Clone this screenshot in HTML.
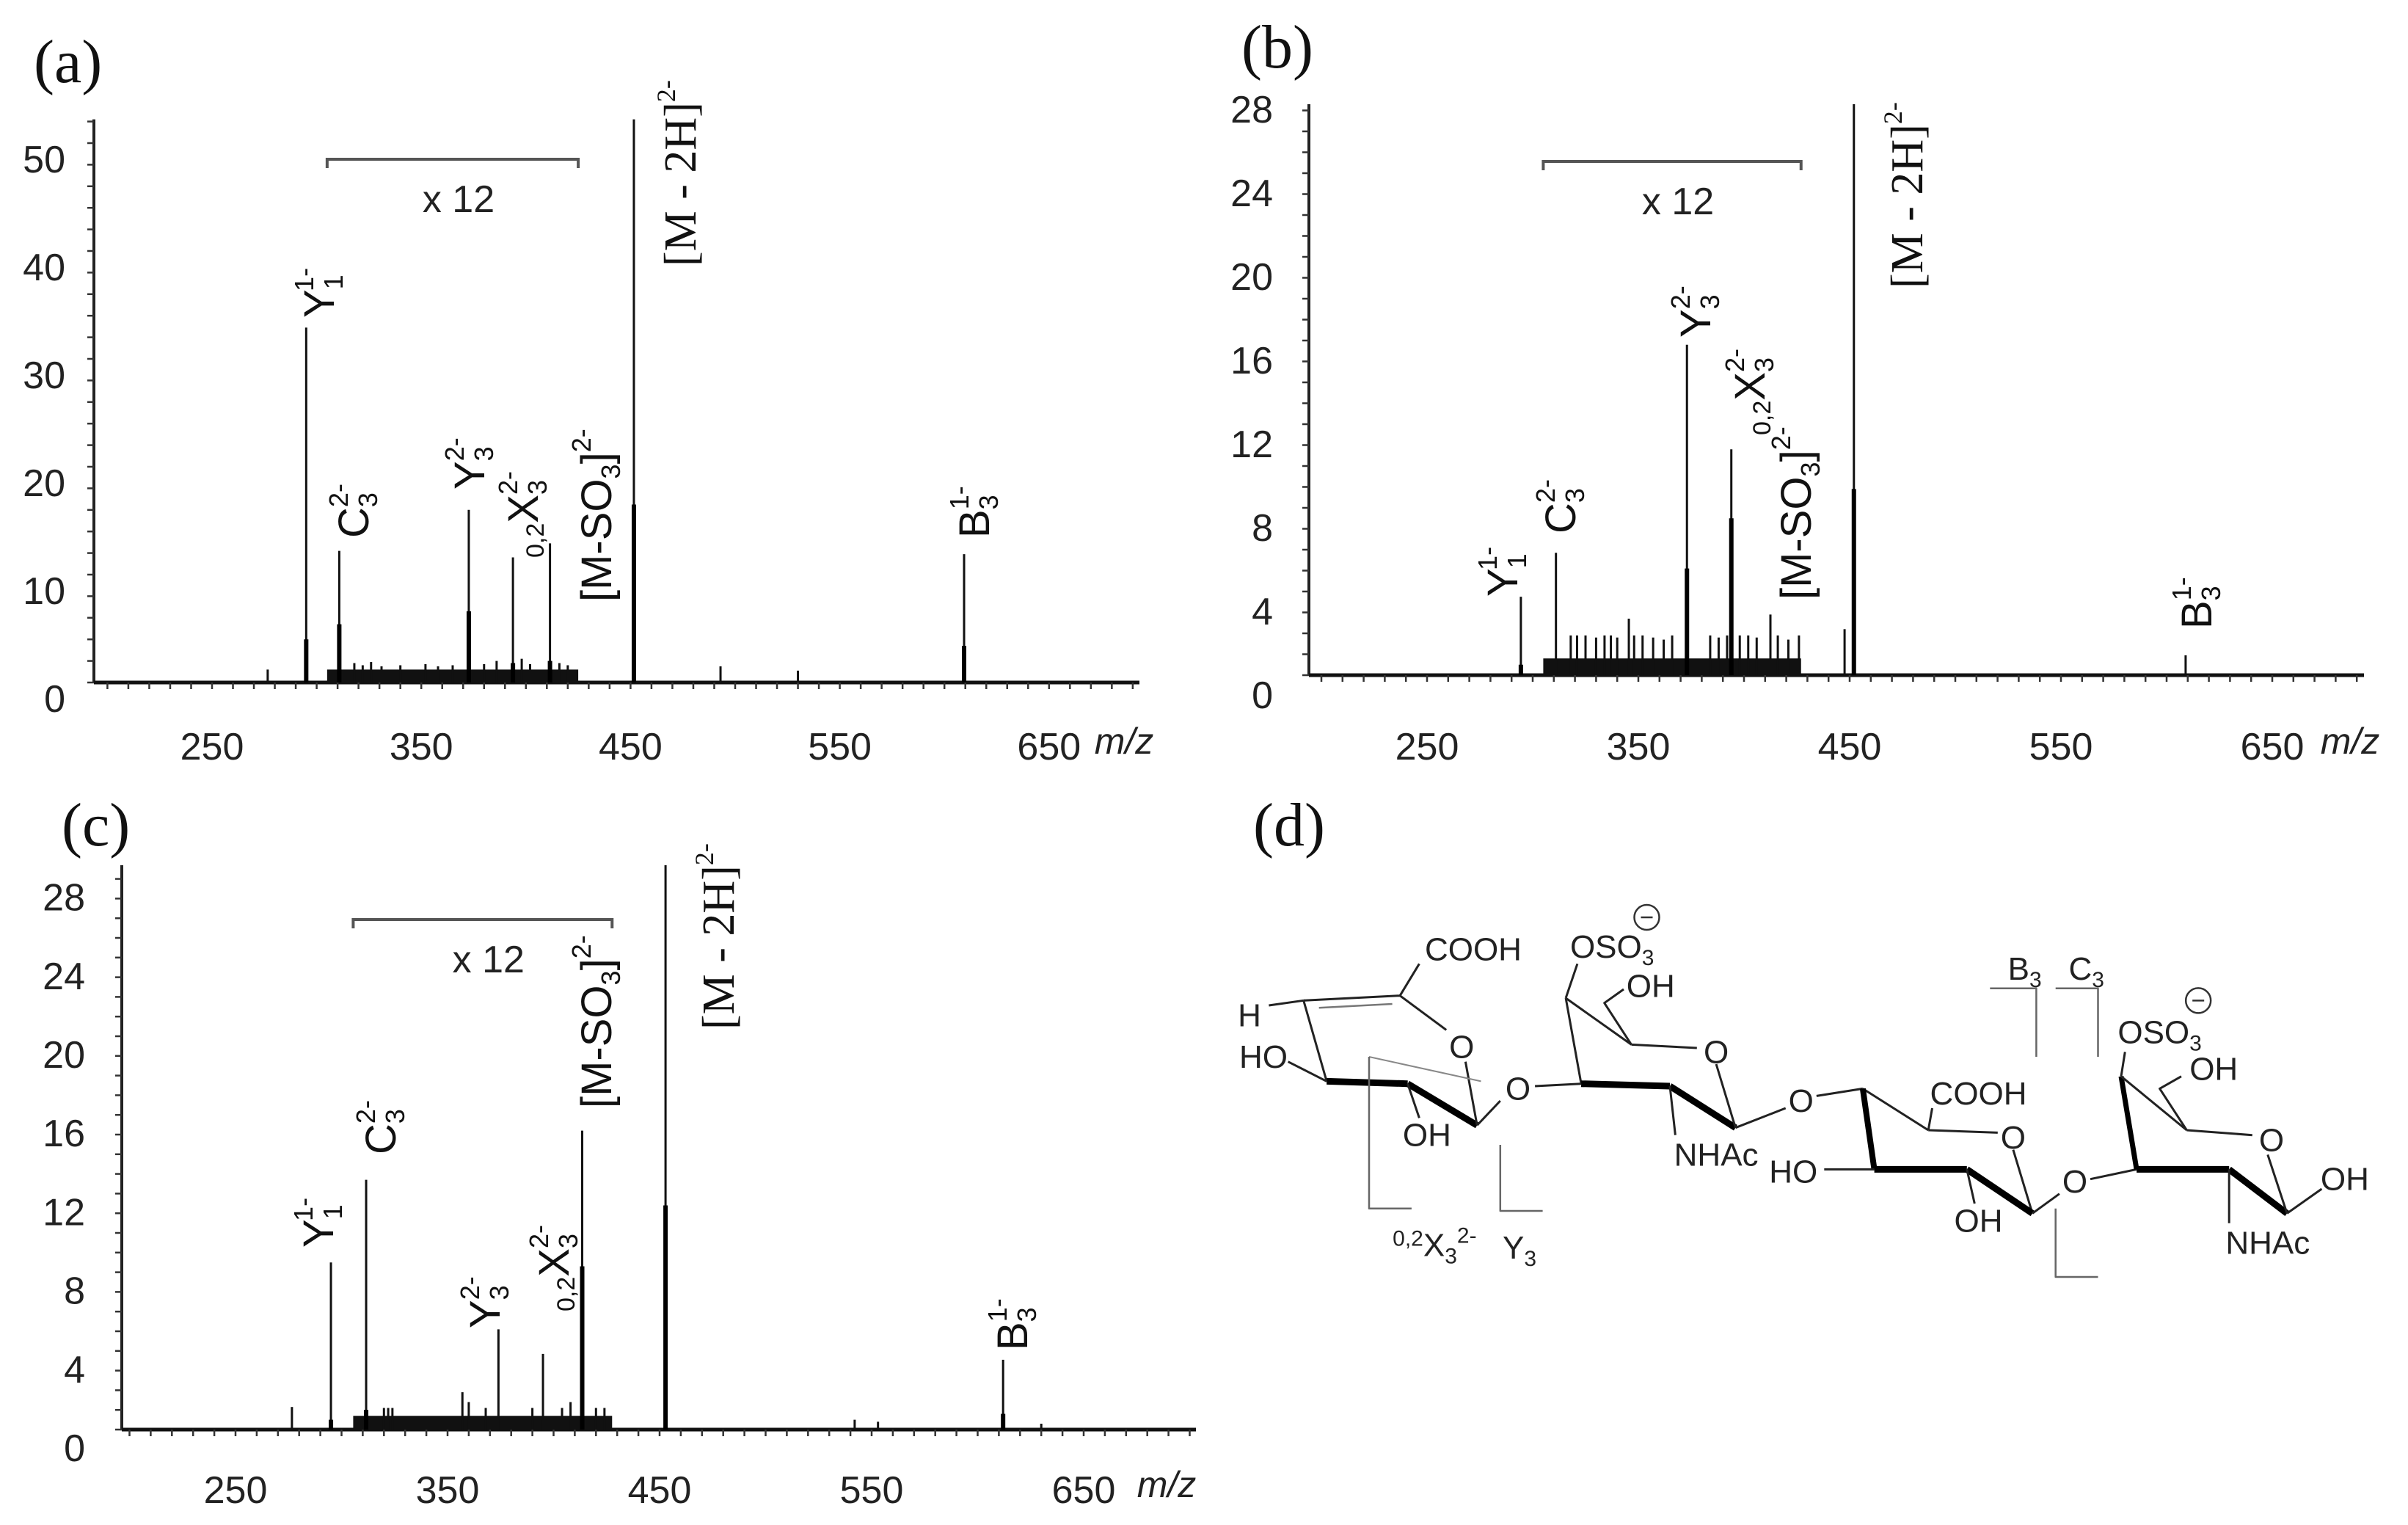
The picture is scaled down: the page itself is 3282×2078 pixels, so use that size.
<!DOCTYPE html>
<html><head><meta charset="utf-8"><style>
html,body{margin:0;padding:0;background:#fff;}
svg{display:block;}
</style></head><body>
<svg id="fig" width="3282" height="2078" viewBox="0 0 3282 2078" xmlns="http://www.w3.org/2000/svg">
<rect width="3282" height="2078" fill="#fff"/>
<g font-family="'Liberation Serif', serif" font-size="84" fill="#111">
<text x="46" y="112">(a)</text>
<text x="1692" y="92">(b)</text>
<text x="84" y="1152">(c)</text>
<text x="1708" y="1152">(d)</text>
</g>
<g id="charts"></g>
<g id="struct"></g>
</svg>
<script>
// ---- Panel (a) data ----
const aPeakMz  = [276.6, 295, 310.8, 372.7, 393.8, 411.5, 451.6, 493, 530, 609.4];
const aPeakVal = [1.2, 32.9, 12.2, 16.0, 11.6, 12.9, 52.2, 1.5, 1.1, 11.9];
const aInnerVal= [0, 4, 5.4, 6.6, 1.8, 2, 16.5, 0, 0, 3.4];
const aSpikeMz = [318, 322, 326, 331, 340, 352, 358, 365, 380, 386, 398, 402, 416, 420];
const aSpikeVal= [1.8, 1.6, 1.9, 1.5, 1.6, 1.7, 1.5, 1.6, 1.7, 2.0, 2.2, 1.7, 1.8, 1.6];
const aNoise   = [305, 425, 1.2];
const aYTicks  = [0, 10, 20, 30, 40, 50];
const aXTicks  = [250, 350, 450, 550, 650];
// ---- Panel (b) data ----
const bPeakMz  = [294.4, 311, 373, 394, 412.5, 447.6, 452, 609];
const bPeakVal = [3.75, 5.85, 15.8, 10.8, 2.9, 2.2, 27.3, 0.95];
const bInnerVal= [0.5, 0, 5.1, 7.5, 0, 0, 8.9, 0];
const bSpikeMz = [318, 321, 325, 330, 334, 337, 340, 345.5, 348, 352, 357, 362, 366, 384, 388, 392, 398, 402, 406, 416, 421, 426];
const bSpikeVal= [1.9, 1.9, 1.9, 1.8, 1.9, 1.9, 1.8, 2.7, 1.9, 1.9, 1.8, 1.7, 1.9, 1.9, 1.8, 1.9, 1.9, 1.9, 1.8, 1.9, 1.7, 1.9];
const bNoise   = [305, 427, 0.8];
const bYTicks  = [0, 4, 8, 12, 16, 20, 24, 28];
const bXTicks  = [250, 350, 450, 550, 650];
// ---- Panel (c) data ----
const cPeakMz  = [276.6, 295, 311.6, 374, 395, 413.5, 452.8, 542, 553, 612, 630];
const cPeakVal = [1.15, 8.5, 12.7, 5.1, 3.85, 15.2, 28.7, 0.5, 0.4, 3.55, 0.3];
const cInnerVal= [0, 0.5, 1, 0, 0, 8.3, 11.4, 0, 0, 0.8, 0];
const cSpikeMz = [320, 322, 324, 357, 360, 368, 390, 404, 408, 414, 420, 424];
const cSpikeVal= [1.1, 1.1, 1.1, 1.9, 1.4, 1.1, 1.1, 1.1, 1.4, 1.2, 1.1, 1.1];
const cNoise   = [305.5, 427.6, 0.7];
const cYTicks  = [0, 4, 8, 12, 16, 20, 24, 28];
const cXTicks  = [250, 350, 450, 550, 650];

const NS = 'http://www.w3.org/2000/svg';
const root = document.getElementById('charts');
function mk(tag, attrs, parent){
  const e = document.createElementNS(NS, tag);
  for (const k in attrs) e.setAttribute(k, attrs[k]);
  (parent||root).appendChild(e);
  return e;
}

function drawChart(p){
  const g = mk('g', {});
  
  
  const X = mz => p.x250 + (mz - 250) * p.pxPerMz;
  const Y = v => p.base - v * p.pxPerUnit;
  const mzMin = 250 - (p.x250 - p.left) / p.pxPerMz;
  const mzMax = 250 + (p.right - p.x250) / p.pxPerMz;
  // axes
  const ya = mk('line', {x1:p.left, y1:Y(p.yTop), x2:p.left, y2:p.base, stroke:'#222', 'stroke-width':4}, g);
  
  
  const xa = mk('line', {x1:p.left, y1:p.base, x2:p.right, y2:p.base, stroke:'#111', 'stroke-width':5}, g);
  
  
  // minor ticks
  for (let v = 0; v <= p.yTop; v += p.yMinor) {
    mk('line', {x1:p.left-9, y1:Y(v), x2:p.left, y2:Y(v), stroke:'#333', 'stroke-width':2.5}, g);
  }
  for (let m = Math.ceil(mzMin/10)*10; m <= mzMax; m += 10) {
    mk('line', {x1:X(m), y1:p.base, x2:X(m), y2:p.base+9, stroke:'#333', 'stroke-width':2.5}, g);
  }
  // tick labels
  p.yTicks.forEach(v => {
    const t = mk('text', {x:p.yLabelRight, y:Y(v)+p.yLabelOff+18, 'text-anchor':'end', 'font-size':52, 'font-family':"'Liberation Sans', sans-serif", fill:'#222'}, g);
    
    
    t.textContent = v;
  });
  p.xTicks.forEach(m => {
    const t = mk('text', {x:X(m), y:p.xLabelY, 'text-anchor':'middle', 'font-size':52, 'font-family':"'Liberation Sans', sans-serif", fill:'#222'}, g);
    
    
    t.textContent = m;
  });
  const mzl = mk('text', {x:p.mzX, y:p.xLabelY-8, 'text-anchor':'middle', 'font-size':50, 'font-style':'italic', 'font-family':"'Liberation Sans', sans-serif", fill:'#222'}, g);
  
  
  mzl.textContent = 'm/z';
  // noise band
  const nb = mk('rect', {x:X(p.noise[0]), y:Y(p.noise[2]), width:X(p.noise[1])-X(p.noise[0]), height:p.base-Y(p.noise[2]), fill:'#111'}, g);
  
  
  p.spikeMz.forEach((m, i) => {
    const s = mk('line', {x1:X(m), y1:p.base, x2:X(m), y2:Y(p.spikeVal[i]), stroke:'#111', 'stroke-width':3}, g);
    
    
  });
  // peaks
  p.peakMz.forEach((m, i) => {
    const l = mk('line', {x1:X(m), y1:p.base, x2:X(m), y2:Y(p.peakVal[i]), stroke:'#111', 'stroke-width':3}, g);
    
    
    if (p.innerVal[i] > 0) {
      const l2 = mk('line', {x1:X(m), y1:p.base, x2:X(m), y2:Y(p.innerVal[i]), stroke:'#000', 'stroke-width':6}, g);
      
      
    }
  });
  // bracket x12
  const bx1 = X(p.noise[0]) , bx2 = X(p.noise[1]);
  const br = mk('path', {d:`M${bx1},${p.brY+12} L${bx1},${p.brY} L${bx2},${p.brY} L${bx2},${p.brY+12}`, fill:'none', stroke:'#555', 'stroke-width':4}, g);
  
  
  const xt = mk('text', {x:(bx1+bx2)/2+8, y:p.brY+72, 'text-anchor':'middle', 'font-size':52, 'font-family':"'Liberation Sans', sans-serif", fill:'#222'}, g);
  
  
  xt.textContent = 'x 12';
  return g;
}

function label(g, name, x, y, main, sub, sup, pre, serif){
  const t = mk('text', {transform:`translate(${x},${y}) rotate(-90)`, 'font-size': serif?62:58, 'font-family': serif?"'Liberation Serif', serif":"'Liberation Sans', sans-serif", fill:'#111'}, g);
  
  
  let html = '';
  if (pre) html += `<tspan font-size="34" dy="8">${pre}</tspan><tspan dy="-8">${main[0]}</tspan>`;
  else html += `<tspan>${main[0]}</tspan>`;
  if (sub) html += `<tspan font-size="36" dy="12">${sub}</tspan>`;
  if (main[1]) html += `<tspan dy="${sub?-12:0}">${main[1]}</tspan>`;
  if (sup) {
    const back = (sub && !main[1]) ? ` dx="-20"` : '';
    const dy = (sub && !main[1]) ? -40 : -28;
    html += `<tspan font-size="36"${back} dy="${dy}">${sup}</tspan>`;
  }
  t.innerHTML = html;
}

const ga = drawChart({name:'panel-a', left:128, right:1553, base:930, pxPerUnit:14.7, yTop:52.2, yMinor:2,
  x250:289, pxPerMz:2.852, yLabelRight:89, yLabelOff:22, xLabelY:1035, mzX:1532, brY:217,
  peakMz:aPeakMz, peakVal:aPeakVal, innerVal:aInnerVal, spikeMz:aSpikeMz, spikeVal:aSpikeVal, noise:aNoise, yTicks:aYTicks, xTicks:aXTicks});
label(ga,'label-y1',455,433,['Y'],'1','1-');
label(ga,'label-c3',502,733,['C'],'3','2-');
label(ga,'label-y3',660,667,['Y'],'3','2-');
label(ga,'label-x3',733,760,['X'],'3','2-','0,2');
label(ga,'label-m-so3',833,820,['[M-SO',']'],'3','2-');
label(ga,'label-m-2h',948,363,['[M - 2H]'],null,'2-',null,true);
label(ga,'label-b3',1348,733,['B'],'3','1-');

const gb = drawChart({name:'panel-b', left:1784, right:3222, base:920, pxPerUnit:28.5, yTop:27.3, yMinor:1,
  x250:1945, pxPerMz:2.88, yLabelRight:1735, yLabelOff:27, xLabelY:1035, mzX:3203, brY:220,
  peakMz:bPeakMz, peakVal:bPeakVal, innerVal:bInnerVal, spikeMz:bSpikeMz, spikeVal:bSpikeVal, noise:bNoise, yTicks:bYTicks, xTicks:bXTicks});
label(gb,'label-y1',2068,813,['Y'],'1','1-');
label(gb,'label-c3',2147,727,['C'],'3','2-');
label(gb,'label-y3',2331,460,['Y'],'3','2-');
label(gb,'label-x3',2405,593,['X'],'3','2-','0,2');
label(gb,'label-m-so3',2468,817,['[M-SO',']'],'3','2-');
label(gb,'label-m-2h',2620,393,['[M - 2H]'],null,'2-',null,true);
label(gb,'label-b3',3014,857,['B'],'3','1-');

const gc = drawChart({name:'panel-c', left:166, right:1630, base:1948, pxPerUnit:26.8, yTop:28.7, yMinor:1,
  x250:321, pxPerMz:2.89, yLabelRight:116, yLabelOff:25, xLabelY:2048, mzX:1590, brY:1253,
  peakMz:cPeakMz, peakVal:cPeakVal, innerVal:cInnerVal, spikeMz:cSpikeMz, spikeVal:cSpikeVal, noise:cNoise, yTicks:cYTicks, xTicks:cXTicks});
label(gc,'label-y1',454,1700,['Y'],'1','1-');
label(gc,'label-c3',539,1573,['C'],'3','2-');
label(gc,'label-y3',681,1810,['Y'],'3','2-');
label(gc,'label-x3',775,1787,['X'],'3','2-','0,2');
label(gc,'label-m-so3',833,1510,['[M-SO',']'],'3','2-');
label(gc,'label-m-2h',1000,1403,['[M - 2H]'],null,'2-',null,true);
label(gc,'label-b3',1400,1840,['B'],'3','1-');

// ---- Structure (d) ----
const st = document.getElementById('struct');
const SX = zx => 1640 + zx * 1.0513, SY = zy => 1040 + zy * 0.6667;
function bond(pts, w, col){
  const d = pts.map((p,i)=>(i?'L':'M')+SX(p[0]).toFixed(1)+','+SY(p[1]).toFixed(1)).join(' ');
  const e = mk('path', {d:d, fill:'none', stroke:col||'#222', 'stroke-width':w||3, 'stroke-linejoin':'round'}, st);
  
  
}
function atom(zx, zy, txt, name){
  const t = mk('text', {x:SX(zx), y:SY(zy)+15, 'text-anchor':'middle', 'font-size':44, 'font-family':"'Liberation Sans', sans-serif", fill:'#222'}, st);
  
  
  t.innerHTML = txt;
}
// ring 1
bond([[85,495],[130,485]]); bond([[130,485],[255,475]]); bond([[150,500],[245,492]],2.5,'#777');
bond([[255,475],[315,545]]); bond([[130,485],[160,650]]);
bond([[160,650],[265,655]],9,'#000'); bond([[265,655],[355,740]],9,'#000');
bond([[340,610],[355,740]]); bond([[355,740],[385,690]]);
bond([[255,475],[280,410]]); bond([[110,610],[160,650]]); bond([[265,655],[280,725]]);
bond([[215,600],[360,650]],2,'#888');
bond([[215,600],[215,910],[270,910]],2.5,'#666'); bond([[385,780],[385,915],[440,915]],2.5,'#666');
// ring 2
bond([[430,660],[490,655]]); bond([[470,480],[490,655]]);
bond([[490,655],[605,660]],9,'#000'); bond([[605,660],[690,745]],9,'#000');
bond([[470,480],[555,575]]); bond([[555,575],[640,582]]); bond([[665,615],[690,745]]);
bond([[470,480],[485,410]]); bond([[555,575],[520,490],[545,462]]);
bond([[605,660],[612,760]]); bond([[690,745],[755,705]]);
// ring 3
bond([[795,680],[855,665]]); bond([[855,665],[940,750]]); bond([[940,750],[1030,755]]);
bond([[1050,790],[1075,920]]); bond([[855,665],[870,830]],8,'#000');
bond([[870,830],[990,830]],9,'#000'); bond([[990,830],[1075,920]],9,'#000');
bond([[805,830],[870,830]]); bond([[990,830],[1000,900]]); bond([[940,750],[945,705]]);
bond([[1075,920],[1110,880]]);
// ring 4
bond([[1150,850],[1210,830]]); bond([[1190,640],[1210,830]],7,'#000');
bond([[1210,830],[1330,830]],9,'#000'); bond([[1330,830],[1405,920]],9,'#000');
bond([[1190,640],[1275,750]]); bond([[1275,750],[1360,760]]); bond([[1380,800],[1405,920]]);
bond([[1190,640],[1195,590]]); bond([[1275,750],[1240,665],[1268,640]]);
bond([[1405,920],[1450,870]]); bond([[1330,830],[1330,940]]);
// cleavage brackets
bond([[1020,460],[1080,460],[1080,600]],2.5,'#666'); bond([[1105,460],[1160,460],[1160,600]],2.5,'#666');
bond([[1105,910],[1105,1050],[1160,1050]],2.5,'#666');
// atoms
atom(350,380,'COOH','cooh-1'); atom(60,515,'H','h-atom'); atom(78,600,'HO','ho-1');
atom(290,760,'OH','oh-1'); atom(335,580,'O','ring-o-1'); atom(408,665,'O','link-o-1');
atom(530,375,'OSO<tspan font-size="30" dy="10">3</tspan>','oso3-1'); atom(580,455,'OH','oh-2');
atom(665,590,'O','ring-o-2'); atom(665,800,'NHAc','nhac-1'); atom(775,690,'O','link-o-2');
atom(1005,675,'COOH','cooh-2'); atom(1050,765,'O','ring-o-3'); atom(765,835,'HO','ho-2');
atom(1005,935,'OH','oh-3'); atom(1130,855,'O','link-o-3');
atom(1240,550,'OSO<tspan font-size="30" dy="10">3</tspan>','oso3-2'); atom(1310,625,'OH','oh-4');
atom(1385,770,'O','ring-o-4'); atom(1480,850,'OH','oh-5'); atom(1380,980,'NHAc','nhac-2');
atom(1065,420,'B<tspan font-size="30" dy="10">3</tspan>','b3-site'); atom(1145,420,'C<tspan font-size="30" dy="10">3</tspan>','c3-site');
atom(300,985,'<tspan font-size="30" dy="-14">0,2</tspan><tspan dy="14">X</tspan><tspan font-size="30" dy="10">3</tspan><tspan font-size="30" dy="-28">2-</tspan>','x3-site');
atom(410,990,'Y<tspan font-size="30" dy="10">3</tspan>','y3-site');
[[575,315],[1290,485]].forEach(c=>{
  const ci = mk('ellipse', {cx:SX(c[0]), cy:SY(c[1]), rx:17, ry:17, fill:'none', stroke:'#333', 'stroke-width':2.5}, st);
  
  
  mk('line', {x1:SX(c[0])-8, y1:SY(c[1]), x2:SX(c[0])+8, y2:SY(c[1]), stroke:'#333', 'stroke-width':2.5}, st);
});
</script>
</body></html>
